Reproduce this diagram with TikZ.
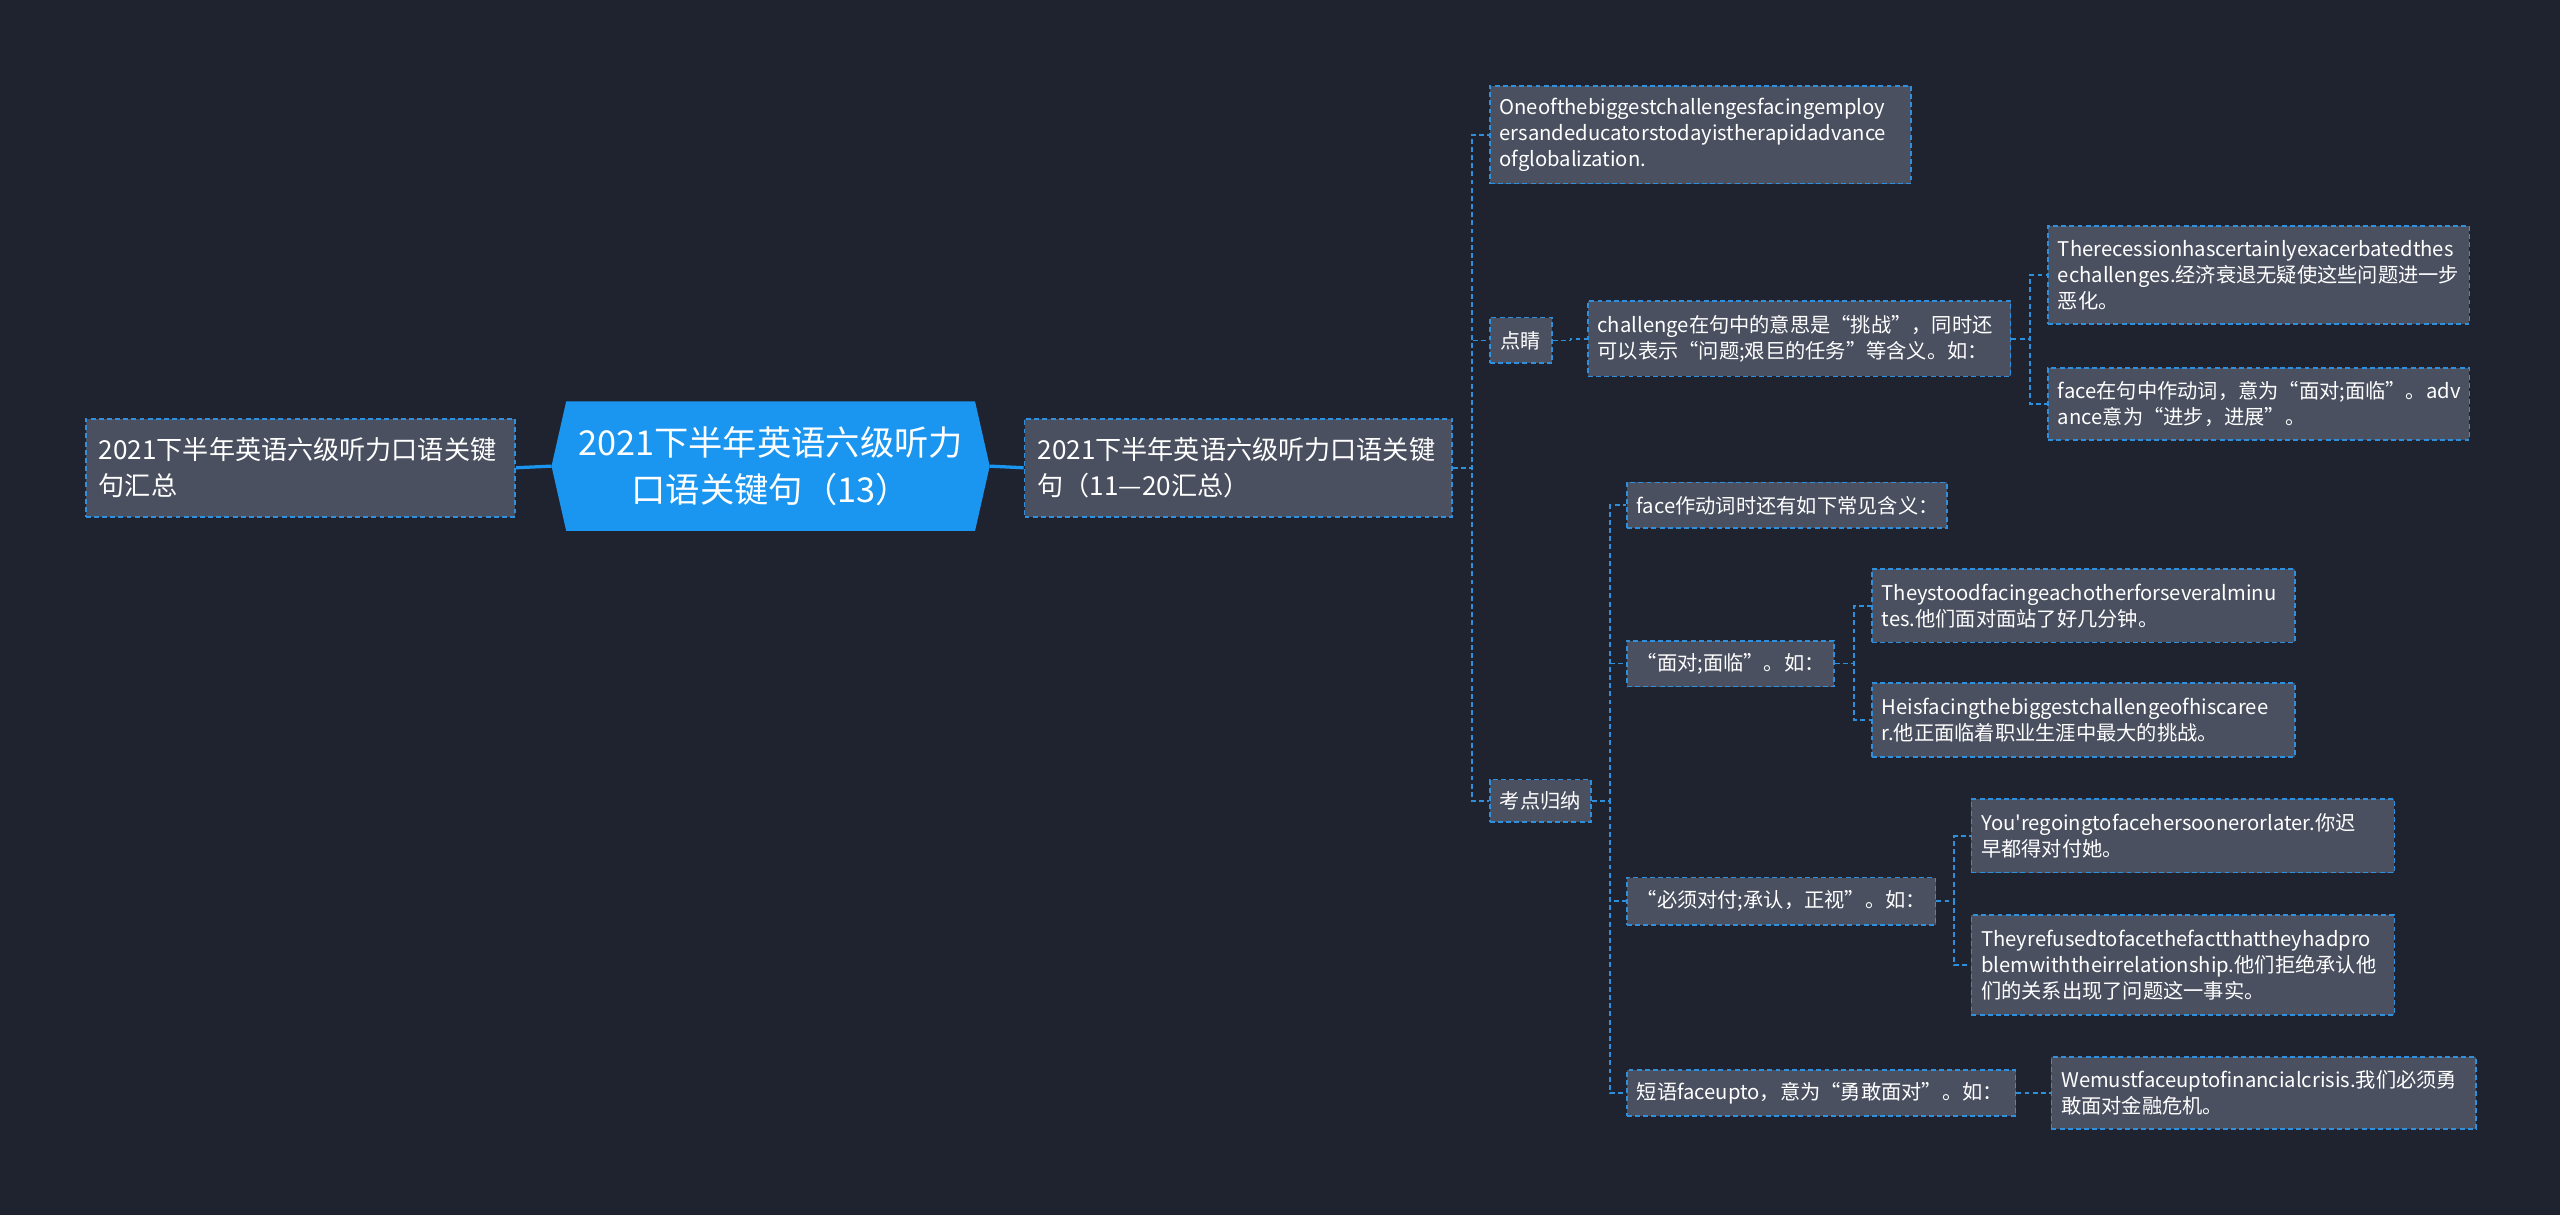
\documentclass[tikz,border=0pt]{standalone}
\usepackage{fontspec}
\setmainfont{Noto Sans CJK SC}[Ligatures=TeXOff]
\usetikzlibrary{backgrounds}
\definecolor{bg}{HTML}{1F2330}
\definecolor{boxfill}{HTML}{4A5060}
\definecolor{edge}{HTML}{2E8FDC}
\definecolor{hub}{HTML}{1A96F0}
\tikzset{
  box/.style={draw=edge, line width=1pt, dash pattern=on 3pt off 2pt, fill=boxfill, text=white,
    anchor=north west, inner xsep=6pt, inner ysep=2pt, align=left, font=\fontsize{12.4}{16}\selectfont},
  bigbox/.style={box, font=\fontsize{16}{22}\selectfont, inner xsep=8pt},
  hubnode/.style={text=white, align=center, font=\fontsize{21}{29}\selectfont, minimum width=268pt, minimum height=79pt, inner sep=0pt},
  conn/.style={draw=edge, line width=1pt, dash pattern=on 3pt off 2pt},
  hubline/.style={draw=hub, line width=2pt},
}
\begin{document}
\begin{tikzpicture}[x=1pt,y=-1pt]
\begin{pgfonlayer}{background}
\fill[bg] (0,0) rectangle (1568,744);
\end{pgfonlayer}
\useasboundingbox (0,0) rectangle (1568,744);

% level 1
\node[bigbox, minimum width=263pt, text width=247pt, minimum height=60pt] (L) at (52,256) {2021下半年英语六级听力口语关键\\句汇总};
\node[hubnode] (C) at (472,285.5) {2021下半年英语六级听力\\口语关键句（13）};
\begin{pgfonlayer}{background}
\fill[hub] (C.west) -- ([xshift=9pt]C.north west) -- ([xshift=-9pt]C.north east) -- (C.east)
  -- ([xshift=-9pt]C.south east) -- ([xshift=9pt]C.south west) -- cycle;
\end{pgfonlayer}
\node[bigbox, minimum width=262pt, text width=246pt, minimum height=60pt] (R) at (627,256) {2021下半年英语六级听力口语关键\\句（11—20汇总）};

% level 2
\node[box, minimum width=258pt, text width=246pt, minimum height=60pt] (A1) at (912,52) {Oneofthebiggestchallengesfacingemploy\\ersandeducatorstodayistherapidadvance\\ofglobalization.};
\node[box, minimum width=38pt, minimum height=28pt] (A2) at (912,194) {点睛};
\node[box, minimum width=62pt, minimum height=26pt] (A3) at (912,477) {考点归纳};

% under 点睛
\node[box, minimum width=259pt, text width=247pt, minimum height=46pt] (B1) at (972,184) {challenge在句中的意思是“挑战”，同时还\\可以表示“问题;艰巨的任务”等含义。如：};
\node[box, minimum width=258pt, text width=246pt, minimum height=60pt] (C1) at (1254,138) {Therecessionhascertainlyexacerbatedthes\\echallenges.经济衰退无疑使这些问题进一步\\恶化。};
\node[box, minimum width=258pt, text width=246pt, minimum height=44pt] (C2) at (1254,225) {face在句中作动词，意为“面对;面临”。adv\\ance意为“进步，进展”。};

% under 考点归纳
\node[box, minimum width=196pt, text width=184pt, minimum height=28pt] (D1) at (996,295) {face作动词时还有如下常见含义：};
\node[box, minimum width=127pt, text width=115pt, minimum height=28pt] (D2) at (996,392) {“面对;面临”。如：};
\node[box, minimum width=189pt, text width=177pt, minimum height=29pt] (D3) at (996,537) {“必须对付;承认，正视”。如：};
\node[box, minimum width=238pt, text width=226pt, minimum height=28pt] (D4) at (996,655) {短语faceupto，意为“勇敢面对”。如：};

\node[box, minimum width=259pt, text width=247pt, minimum height=45pt] (E1) at (1146,348) {Theystoodfacingeachotherforseveralminu\\tes.他们面对面站了好几分钟。};
\node[box, minimum width=259pt, text width=247pt, minimum height=45pt] (E2) at (1146,418) {Heisfacingthebiggestchallengeofhiscaree\\r.他正面临着职业生涯中最大的挑战。};
\node[box, minimum width=259pt, text width=247pt, minimum height=45pt] (F1) at (1207,489) {You'regoingtofacehersoonerorlater.你迟\\早都得对付她。};
\node[box, minimum width=259pt, text width=247pt, minimum height=61pt] (F2) at (1207,560) {Theyrefusedtofacethefactthattheyhadpro\\blemwiththeirrelationship.他们拒绝承认他\\们的关系出现了问题这一事实。};
\node[box, minimum width=260pt, text width=248pt, minimum height=44pt] (G1) at (1256,647) {Wemustfaceuptofinancialcrisis.我们必须勇\\敢面对金融危机。};

% connectors
\draw[hubline] (L.east) -- (C.west);
\draw[hubline] (C.east) -- (R.east -| R.west);
\foreach \t in {A1,A2,A3} \draw[conn] (R.east) -- ++(11.5,0) |- (\t.west);
\draw[conn] (A2.east) -- ++(11,0) |- (B1.west);
\foreach \t in {C1,C2} \draw[conn] (B1.east) -- ++(11.5,0) |- (\t.west);
\foreach \t in {D1,D2,D3,D4} \draw[conn] (A3.east) -- ++(11,0) |- (\t.west);
\foreach \t in {E1,E2} \draw[conn] (D2.east) -- ++(11.5,0) |- (\t.west);
\foreach \t in {F1,F2} \draw[conn] (D3.east) -- ++(11,0) |- (\t.west);
\draw[conn] (D4.east) -- ++(11,0) |- (G1.west);
\end{tikzpicture}
\end{document}
